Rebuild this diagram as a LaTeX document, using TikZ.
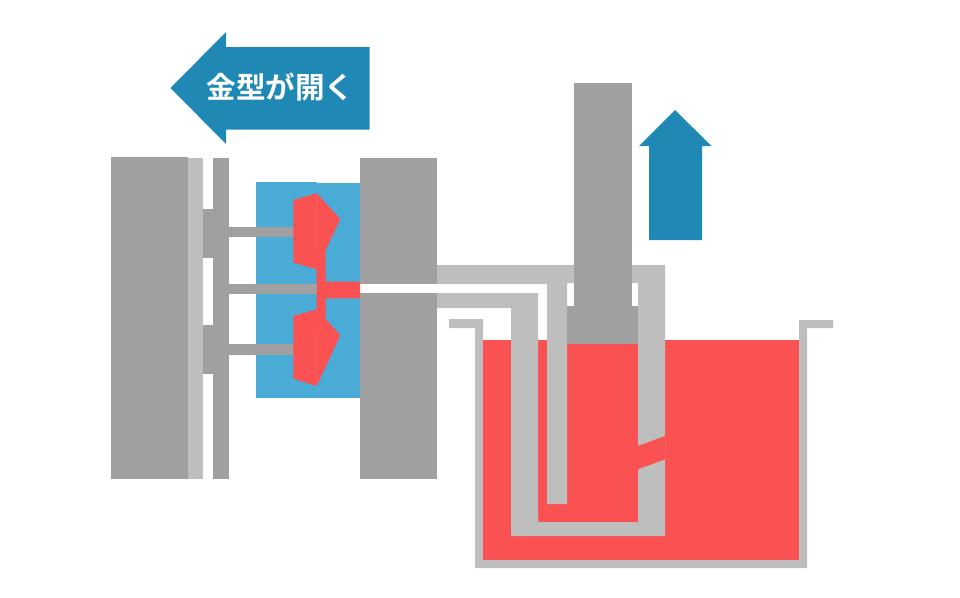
\documentclass[tikz,border=0pt]{standalone}
\usepackage{fontspec}
\newfontfamily\cjkbold[Scale=1]{Noto Sans CJK JP Bold}
\definecolor{arrowblue}{HTML}{2088B5}
\definecolor{moldblue}{HTML}{4AABD6}
\definecolor{meltred}{HTML}{FA5252}
\definecolor{steelgray}{HTML}{A0A0A0}
\definecolor{palegray}{HTML}{BEBEBE}
\tikzset{
  steel/.style={fill=steelgray},
  pale/.style={fill=palegray},
  mold/.style={fill=moldblue},
  melt/.style={fill=meltred},
  arrowshape/.style={fill=arrowblue},
  seam/.style={draw=meltred!93!white,line width=0.25pt},
}
\begin{document}
\begin{tikzpicture}[x=0.75pt,y=-0.75pt]
      \useasboundingbox (0,0) rectangle (960,597);
      \fill[arrowshape] (170.5,88) -- (226,32) -- (226,47) -- (369.5,47) -- (369.5,129.5) -- (226,129.5) -- (226,144) -- cycle;
      \fill[arrowshape] (675,110) -- (711.5,146) -- (702,146) -- (702,240) -- (649,240) -- (649,146) -- (639,146) -- cycle;
      \node (label) at (280.5,87) [text=white,inner sep=0pt] {\cjkbold\fontsize{22.2pt}{25pt}\selectfont 金型が開く};
      \fill[steel] (110.5,157) rectangle (188,479);
      \fill[pale] (188,157.5) rectangle (203,479);
      \fill[steel] (203,209) rectangle (213,258);
      \fill[steel] (203,325) rectangle (213,374);
      \fill[steel] (213,158) rectangle (228.5,479);
      \fill[mold] (256,182) rectangle (316.5,397.5);
      \fill[mold] (316.5,182.5) rectangle (360,398);
      \fill[steel] (228,226.7) rectangle (294,237.3);
      \fill[steel] (228,344.3) rectangle (294,355);
      \fill[melt] (293.3,200) -- (316.7,193.3) -- (340.3,219) -- (325.7,250) -- (325.7,281.7) -- (360,281.7) -- (360,298.3) -- (325.7,298.3) -- (325.7,319) -- (340.3,335.3) -- (316.7,386) -- (293.3,378.7) -- (293.3,316) -- (316.7,309.3) -- (316.7,269.3) -- (293.3,262.7) -- cycle;
      \fill[steel] (228,284) rectangle (317,294.3);
      \draw[seam] (316.6,193.5) -- (316.6,248);
      \draw[seam] (316.6,331) -- (316.6,385.5);
      \fill[steel] (360,158) rectangle (437,284);
      \fill[steel] (360,293) rectangle (437,479);
      \fill[pale] (449,319) -- (483,319) -- (483,560) -- (799,560) -- (799,320) -- (833,320) -- (833,328) -- (807,328) -- (807,568) -- (475,568) -- (475,328) -- (449,328) -- cycle;
      \fill[melt] (483,340) rectangle (799,560);
      \fill[pale] (437,265) -- (665,265) -- (665,536) -- (511,536) -- (511,308) -- (437,308) -- (437,293) -- (538,293) -- (538,522) -- (638,522) -- (638,283) -- (567,283) -- (567,504) -- (547,504) -- (547,284) -- (437,284) -- cycle;
      \fill[melt] (638,446) -- (665,436) -- (665,459.3) -- (638,469.3) -- cycle;
      \fill[steel] (574.3,83) rectangle (631.5,306.5);
      \fill[steel] (567,306) rectangle (638,344);
\end{tikzpicture}
\end{document}
